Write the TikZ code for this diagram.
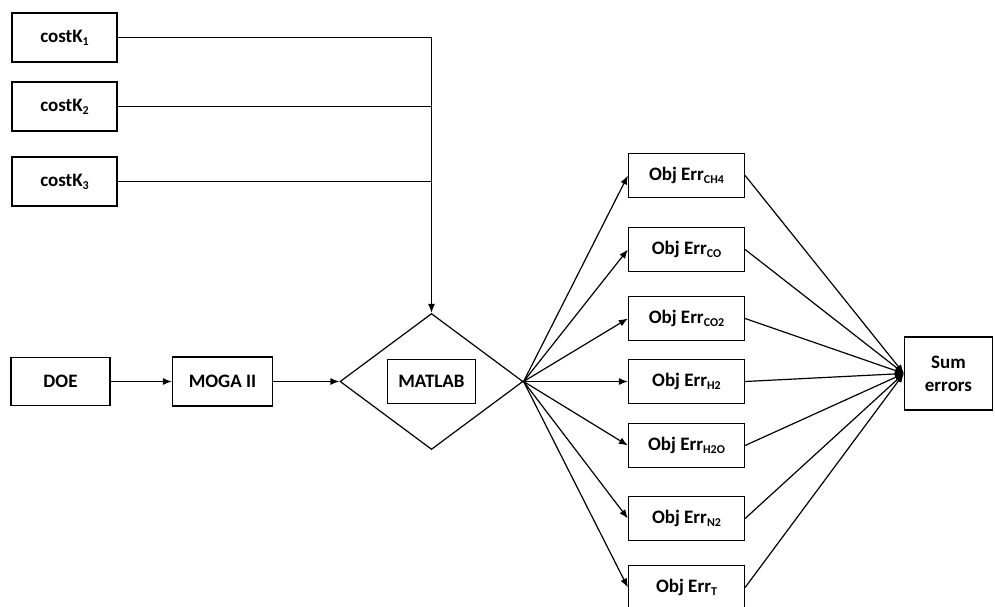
\documentclass[tikz,border=0pt]{standalone}
\usepackage{fontspec}
\setmainfont{Carlito}
\usepackage{tikz}
\usetikzlibrary{shapes.geometric, arrows.meta, positioning}
\newcommand{\gassub}[1]{\raisebox{-0.35ex}{\fontsize{12}{12}\selectfont #1}}
\tikzstyle{inbox} = [rectangle, minimum width=105pt, minimum height=49pt, text centered, draw=black, line width=1.2pt, fill=white, font=\fontsize{19}{23}\selectfont\bfseries]
\tikzstyle{errbox} = [inbox, minimum width=116pt, minimum height=44pt]
\tikzstyle{decision} = [diamond, minimum width=183pt, minimum height=136pt, inner sep=0pt, draw=black, line width=1.2pt]
\tikzstyle{arrow} = [line width=1.2pt,-{Latex[length=9pt,width=7pt]}]
\tikzstyle{wire} = [line width=1.2pt]
\begin{document}
\begin{tikzpicture}[node distance=69pt]
        \useasboundingbox (-64.5pt,37.5pt) rectangle (930.5pt,-569.5pt);

        \node (k1) [inbox] {costK\gassub{1}};
        \node (k2) [inbox, below of=k1] {costK\gassub{2}};
        \node (k3) [inbox, below of=k2, yshift=-6pt] {costK\gassub{3}};
        \node (doe) [inbox, below of=k3, yshift=-131pt, xshift=-4pt, minimum width=99pt, minimum height=48pt] {DOE};
        \node (moga) [inbox, right of=doe, xshift=93pt, minimum width=100pt] {MOGA II};
        \node (matlab) [decision, right of=moga, xshift=140pt] {};
        \node (matlabbox) [inbox, minimum width=88pt, minimum height=44pt] at (matlab) {MATLAB};

        \node (errH2) [errbox, right of=matlab, xshift=186pt] {Obj Err\gassub{H2}};
        \node (errCO2) [errbox, above of=errH2, yshift=-6pt] {Obj Err\gassub{CO2}};
        \node (errCO) [errbox, above of=errCO2] {Obj Err\gassub{CO}};
        \node (errCH4) [errbox, above of=errCO, yshift=5pt] {Obj Err\gassub{CH4}};
        \node (errH2O) [errbox, below of=errH2, yshift=5pt] {Obj Err\gassub{H2O}};
        \node (errN2) [errbox, below of=errH2O, yshift=-4pt] {Obj Err\gassub{N2}};
        \node (errT) [errbox, below of=errN2] {Obj Err\gassub{T}};
        \node (sum) [inbox, right of=errH2, xshift=193pt, yshift=8pt, minimum width=88pt, minimum height=73pt, align=center] {Sum\\errors};

        \draw [arrow] (k1.east) -| (matlab.north);
        \draw [wire] (k2.east) -- (k2.east -| matlab.north);
        \draw [wire] (k3.east) -- (k3.east -| matlab.north);
        \draw [arrow] (doe) -- (moga);
        \draw [arrow] (moga) -- (matlab);

        \draw [arrow] (matlab.east) -- (errCH4.west);
        \draw [arrow] (matlab.east) -- (errCO.west);
        \draw [arrow] (matlab.east) -- (errCO2.west);
        \draw [arrow] (matlab.east) -- (errH2.west);
        \draw [arrow] (matlab.east) -- (errH2O.west);
        \draw [arrow] (matlab.east) -- (errN2.west);
        \draw [arrow] (matlab.east) -- (errT.west);

        \draw [arrow] (errCH4.east) -- (sum.west);
        \draw [arrow] (errCO.east) -- (sum.west);
        \draw [arrow] (errCO2.east) -- (sum.west);
        \draw [arrow] (errH2.east) -- (sum.west);
        \draw [arrow] (errH2O.east) -- (sum.west);
        \draw [arrow] (errN2.east) -- (sum.west);
        \draw [arrow] (errT.east) -- (sum.west);

    \end{tikzpicture}
\end{document}
